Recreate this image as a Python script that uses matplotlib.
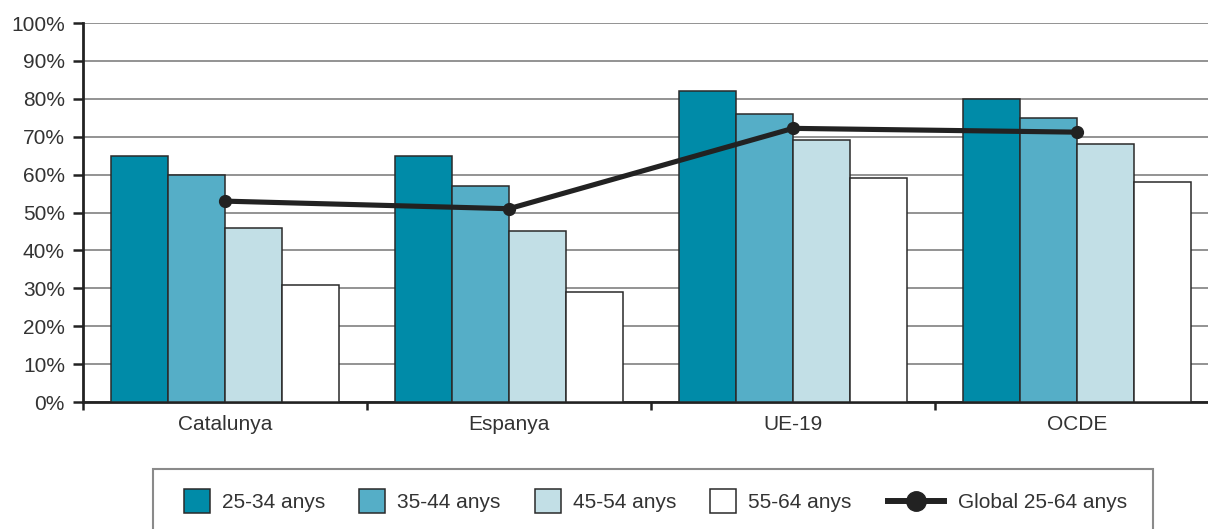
import matplotlib
matplotlib.use("Agg")
import matplotlib.pyplot as plt
import numpy as np
from matplotlib.patches import Rectangle, Patch
from matplotlib.lines import Line2D

plt.rcParams['font.family'] = ['Liberation Sans', 'DejaVu Sans']

categories = ["Catalunya", "Espanya", "UE-19", "OCDE"]
series_names = ["25-34 anys", "35-44 anys", "45-54 anys", "55-64 anys"]
v25_34 = [65, 65, 82, 80]
v35_44 = [60, 57, 76, 75]
v45_54 = [46, 45, 69, 68]
v55_64 = [31, 29, 59, 58]
global_25_64 = [53, 51, 72.2, 71.2]
line_name = "Global 25-64 anys"
yticks = [0, 10, 20, 30, 40, 50, 60, 70, 80, 90, 100]
ytick_labels = [f"{t}%" for t in yticks]

colors = ["#008BA8", "#55AEC7", "#C2DFE6", "#FFFFFF"]
edge = "#2a2a2a"
txt = "#333333"
FS = 15
PX = FS * 100 / 72.0  # font size in pixels

W, H = 1208, 529
fig = plt.figure(figsize=(W / 100, H / 100), dpi=100)
ax = fig.add_axes([83 / W, (H - 402) / H, 1136 / W, 379 / H])

x = np.arange(len(categories))
bw = 0.2
offsets = [-0.3, -0.1, 0.1, 0.3]
for vals, off, c in zip([v25_34, v35_44, v45_54, v55_64], offsets, colors):
    ax.bar(x + off, vals, width=bw, color=c, edgecolor=edge, linewidth=1.1, zorder=3)

ax.plot(x, global_25_64, color="#222222", lw=3.7, marker="o", ms=8.5, zorder=4,
        solid_capstyle="round")

ax.set_xlim(-0.5, len(categories) - 0.5)
ax.set_ylim(0, 100)
ax.set_yticks(yticks)
ax.set_yticklabels(ytick_labels, fontsize=FS, color=txt)
ax.yaxis.grid(True, color="#8a8a8a", lw=1.3, zorder=0)
ax.set_axisbelow(True)

ax.set_xticks(x)
ax.set_xticklabels(categories, fontsize=FS, color=txt)
ax.set_xticks(np.arange(-0.5, len(categories), 1.0), minor=True)
ax.tick_params(axis='x', which='major', length=0, pad=9)
ax.tick_params(axis='x', which='minor', length=6, width=1.8, color="#222222")
ax.tick_params(axis='y', which='major', length=7.2, width=1.8, color="#222222", pad=5.8)

for s in ["top", "right"]:
    ax.spines[s].set_visible(False)
for s in ["left", "bottom"]:
    ax.spines[s].set_linewidth(2)
    ax.spines[s].set_color("#222222")

# legend frame
fig.patches.append(Rectangle((153 / W, -10 / H), 1000 / W, (H - 469 + 10) / H,
                             transform=fig.transFigure, facecolor="white",
                             edgecolor="#8a8a8a", lw=1.5))
yc = (H - 501) / H
sq_handles = [Patch(facecolor=c, edgecolor=edge, linewidth=1.1) for c in colors]
leg1 = fig.legend(sq_handles, series_names, loc="center left",
                  bbox_to_anchor=(184 / W, yc), ncol=4, frameon=False,
                  fontsize=FS, labelcolor=txt, borderpad=0, borderaxespad=0,
                  handlelength=26 / PX, handleheight=29 / PX,
                  handletextpad=12 / PX, columnspacing=34 / PX)
line_handle = Line2D([0], [0], color="#222222", lw=4.3, marker="o", ms=14)
leg2 = fig.legend([line_handle], [line_name], loc="center left",
                  bbox_to_anchor=(888 / W, (H - 503) / H), frameon=False,
                  fontsize=FS, labelcolor=txt, borderpad=0, borderaxespad=0,
                  handlelength=56 / PX, handletextpad=14 / PX)

fig.savefig("out.png", dpi=100)
